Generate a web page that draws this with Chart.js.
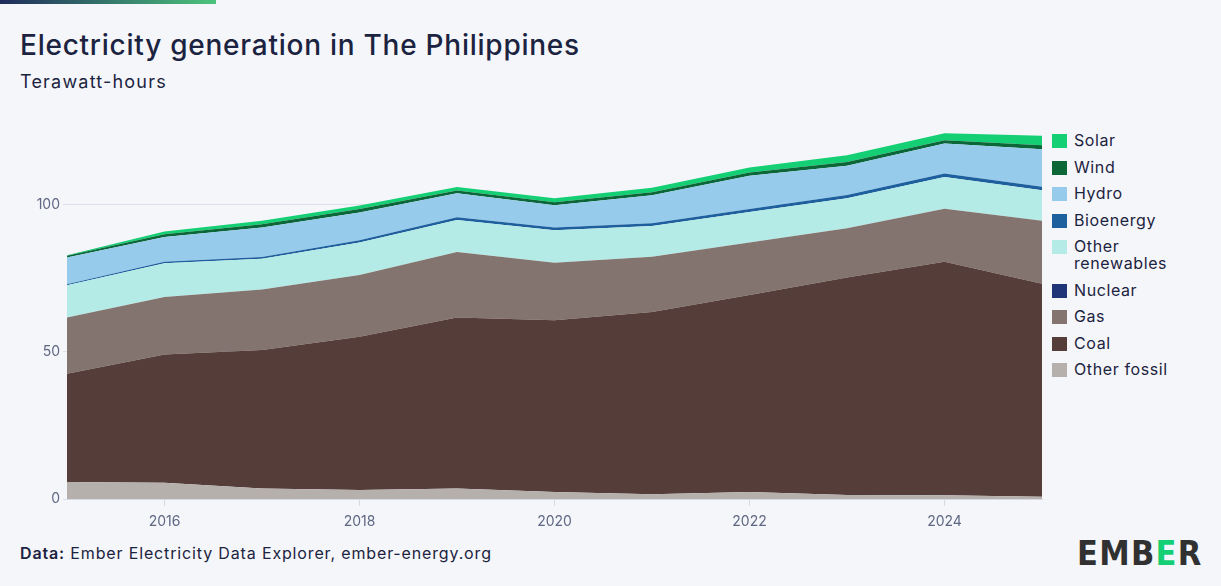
<!DOCTYPE html>
<html>
<head>
<meta charset="utf-8">
<script src="https://cdn.jsdelivr.net/npm/chart.js@4.4.1/dist/chart.umd.min.js"></script>
<style>
  html, body { margin: 0; padding: 0; background: #f4f6fa; }
  body { width: 1221px; height: 586px; position: relative; overflow: hidden;
         font-family: 'Inter', 'Noto Sans', sans-serif; color: #1c2340; }
  .topbar { position: absolute; left: 0; top: 0; width: 216px; height: 4px;
            background: linear-gradient(90deg, #1f2b5b, #4cc47c); }
  h1 { position: absolute; left: 20px; top: 28px; margin: 0; font-size: 28px; font-weight: 500; letter-spacing: 0.75px; }
  .sub { position: absolute; left: 20px; top: 71px; font-size: 18px; letter-spacing: 1.2px; }
  #wrap { position: absolute; left: 0; top: 120px; width: 1045px; height: 420px; }
  #legend { position: absolute; left: 1052px; top: 132px; }
  .item { display: flex; align-items: flex-start; line-height: 17px; margin-bottom: 9.5px; font-size: 16px; letter-spacing: 0.6px; }
  .box { width: 15px; height: 14px; margin-top: 2px; margin-right: 7px; flex: none; }
  .foot { position: absolute; left: 20px; top: 543px; font-size: 16px; letter-spacing: 0.85px; }
  .foot b { font-weight: 600; }
  .logo { position: absolute; left: 1077px; top: 533px; font-family: 'DejaVu Sans Condensed', 'DejaVu Sans', sans-serif;
          font-weight: bold; font-size: 34px; color: #313131; letter-spacing: 1.3px; }
  .logo span { color: #14cf74; }
</style>
</head>
<body>
<div class="topbar"></div>
<h1>Electricity generation in The Philippines</h1>
<div class="sub">Terawatt-hours</div>
<div id="wrap"><canvas id="chart"></canvas></div>
<div id="legend"></div>
<div class="foot"><b>Data:</b> Ember Electricity Data Explorer, ember-energy.org</div>
<div class="logo">EMB<span>E</span>R</div>
<script>
// Values (TWh per year)
const years = [2015, 2016, 2017, 2018, 2019, 2020, 2021, 2022, 2023, 2024, 2025];
const otherFossil = [5.8, 5.5, 3.6, 3.1, 3.6, 2.4, 1.6, 2.4, 1.4, 1.3, 0.8];
const coal = [36.8, 43.6, 47.1, 52.1, 58.1, 58.4, 62.0, 67.0, 73.9, 79.4, 72.4];
const gas = [19.1, 19.6, 20.5, 21.0, 22.3, 19.5, 18.8, 17.8, 16.8, 18.0, 21.4];
const nuclear = [0, 0, 0, 0, 0, 0, 0, 0, 0, 0, 0];
const otherRenewables = [11.0, 11.5, 10.5, 11.0, 10.9, 11.1, 10.4, 10.4, 10.2, 10.8, 10.4];
const bioenergy = [0.3, 0.5, 0.6, 0.8, 0.9, 0.9, 1.0, 1.0, 1.1, 1.2, 1.2];
const hydro = [9.1, 8.4, 10.0, 9.4, 8.2, 7.6, 9.5, 11.3, 9.9, 10.2, 12.7];
const wind = [0.6, 0.9, 1.1, 1.2, 0.9, 1.0, 1.0, 1.1, 1.3, 1.1, 1.4];
const solar = [0.2, 1.0, 1.2, 1.2, 1.2, 1.4, 1.5, 1.7, 2.3, 2.4, 3.2];
const yTicks = [0, 50, 100];
const xTicks = [2016, 2018, 2020, 2022, 2024];

// bottom of the stack first
const stack = [
    ['Other fossil', otherFossil, '#b6b0ad'],
    ['Coal', coal, '#553e3a'],
    ['Gas', gas, '#84746f'],
    ['Nuclear', nuclear, '#1f3577'],
    ['Other renewables', otherRenewables, '#b5ebe6'],
    ['Bioenergy', bioenergy, '#1e5f9e'],
    ['Hydro', hydro, '#96cbec'],
    ['Wind', wind, '#0b6638'],
    ['Solar', solar, '#14cf74'],
];

const axisText = { color: '#5f6783', font: { family: "'Inter', sans-serif", size: 14 } };

new Chart(document.getElementById('chart'), {
    type: 'line',
    data: {
        datasets: stack.map(([label, values, color], i) => ({
            label,
            data: years.map((year, j) => ({ x: year, y: values[j] })),
            backgroundColor: color,
            borderColor: color,
            borderWidth: 0,
            pointRadius: 0,
            tension: 0,
            fill: i === 0 ? 'origin' : '-1',
        })),
    },
    options: {
        responsive: true,
        maintainAspectRatio: false,
        animation: false,
        events: [],
        layout: { padding: { top: 10.5, right: 3 } },
        plugins: { legend: { display: false }, tooltip: { enabled: false } },
        scales: {
            x: {
                type: 'linear',
                min: 2015,
                max: 2025,
                afterBuildTicks: (scale) => { scale.ticks = xTicks.map((value) => ({ value })); },
                afterFit: (scale) => { scale.height = 41; },
                ticks: { ...axisText, padding: 7, callback: (v) => String(v) },
                grid: { drawOnChartArea: false, tickLength: 7, color: '#d6dae6' },
                border: { color: '#d6dae6' },
            },
            y: {
                stacked: true,
                min: 0,
                max: 125,
                afterBuildTicks: (scale) => { scale.ticks = yTicks.map((value) => ({ value })); },
                afterFit: (scale) => { scale.width = 67; },
                ticks: { ...axisText, padding: 3 },
                grid: { tickLength: 4, color: '#dde1ec' },
                border: { display: false },
            },
        },
    },
});

// Legend is plain HTML so "Other renewables" can wrap like the original.
const legend = document.getElementById('legend');
stack.slice().reverse().forEach(([label, , color]) => {
    const item = document.createElement('div');
    item.className = 'item';
    const text = label === 'Other renewables' ? 'Other<br>renewables' : label;
    item.innerHTML = `<div class="box" style="background:${color}"></div><div>${text}</div>`;
    legend.appendChild(item);
});
</script>
</body>
</html>
